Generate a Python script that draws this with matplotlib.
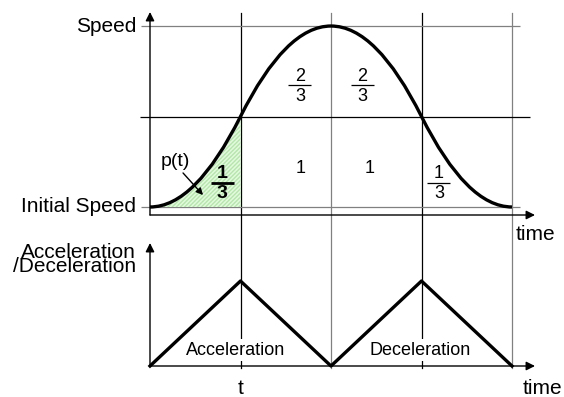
import matplotlib
matplotlib.use("Agg")
import matplotlib.pyplot as plt
from matplotlib.path import Path
import matplotlib.patches as ptc

# données (temps en segments, vitesse / accel normalisées)
knot_t = [0, 1, 2, 3, 4]
knot_v = [0, 0.5, 1, 0.5, 0]
ctrl_t = [0.5, 1.5, 2.5, 3.5]
ctrl_v = [0, 1, 1, 0]
accel_t = [0, 1, 2, 3, 4]
accel_v = [0, 1, 0, 1, 0]
grid_t = [1, 2, 3, 4]
grid_col = ['black', 'gray', 'black', 'gray']
area_lbl = ['1', '1']
area_t = [1.66, 2.43]

plt.rcParams['font.family'] = ['Liberation Sans', 'DejaVu Sans']

W, H = 564, 397
fig = plt.figure(figsize=(W/100, H/100), dpi=100)

# mise en page en pixels
X0, DX = 150, 90.5
Y0s, DYs = 207, 181     # vitesse
Y0a, DYa = 366, 85      # accélération

ax = fig.add_axes([0, 0, 1, 1])
ax.set_xlim(-X0/DX, (W-X0)/DX)
ax.set_ylim((Y0s-H)/DYs, Y0s/DYs)
ax.axis('off')

ax2 = fig.add_axes([0, 0, 1, 1])
ax2.set_xlim(-X0/DX, (W-X0)/DX)
ax2.set_ylim((Y0a-H)/DYa, Y0a/DYa)
ax2.axis('off')
ax2.patch.set_alpha(0)

ap = dict(arrowstyle='-|>', mutation_scale=13, lw=1, color='black',
          shrinkA=0, shrinkB=0)


# fraction écrite à la main : numérateur, barre, dénominateur
def frac(t, v, num, den, bold=False):
    w = 'bold' if bold else 'normal'
    fs = 14 if bold else 13
    ax.text(t, v + 9/DYs, num, ha='center', va='center', fontsize=fs,
            fontweight=w, zorder=6)
    ax.text(t, v - 11/DYs, den, ha='center', va='center', fontsize=fs,
            fontweight=w, zorder=6)
    ax.plot([t - 11.5/DX, t + 11.5/DX], [v, v], color='black',
            lw=2 if bold else 0.9, solid_capstyle='butt', zorder=6)


# verticales communes aux deux panneaux
for t, c in zip(grid_t, grid_col):
    ax.axvline(t, ymin=1-368/H, ymax=1-13/H, color=c, lw=0.9, zorder=1)

# grille horizontale du haut
ax.hlines([1, 0], -9/DX, 370/DX, color='gray', lw=0.9)
ax.hlines(0.5, -10/DX, 380/DX, color='black', lw=0.9)

# axes du haut
ax.annotate('', xy=(0, (Y0s-12)/DYs), xytext=(0, -8/DYs), arrowprops=ap)
ax.annotate('', xy=(385/DX, -8/DYs), xytext=(0, -8/DYs), arrowprops=ap)

# courbe de vitesse (paraboles -> bezier quadratique)
verts = [(knot_t[0], knot_v[0])]
codes = [Path.MOVETO]
for i in range(len(ctrl_t)):
    verts += [(ctrl_t[i], ctrl_v[i]), (knot_t[i+1], knot_v[i+1])]
    codes += [Path.CURVE3, Path.CURVE3]
ax.add_patch(ptc.PathPatch(Path(verts, codes), fill=False, lw=2.4,
                           color='black', zorder=5))

# zone hachurée sous p(t)
fverts = [(knot_t[0], knot_v[0]), (ctrl_t[0], ctrl_v[0]),
          (knot_t[1], knot_v[1]), (knot_t[1], knot_v[0]),
          (knot_t[0], knot_v[0])]
fcodes = [Path.MOVETO, Path.CURVE3, Path.CURVE3, Path.LINETO, Path.CLOSEPOLY]
fp = Path(fverts, fcodes)
ax.add_patch(ptc.PathPatch(fp, facecolor='#e4f9df', edgecolor='none', zorder=2))
ax.add_patch(ptc.PathPatch(fp, fill=False, edgecolor='#b4e6aa', lw=0,
                           hatch='////////', zorder=2))

# textes du haut
ax.text(-14/DX, 1, 'Speed', ha='right', va='center', fontsize=15)
ax.text(-14/DX, 0, 'Initial Speed', ha='right', va='center', fontsize=15)
ax.text(366/DX, -27/DYs, 'time', ha='left', va='center', fontsize=15)
frac(1.657, 0.674, '2', '3')
frac(2.343, 0.674, '2', '3')
for t, s in zip(area_t, area_lbl):
    ax.text(t, 0.215, s, ha='center', va='center', fontsize=13)
frac(3.193, 0.133, '1', '3')
frac(0.796, 0.133, '1', '3', bold=True)
ax.text(0.276, 0.249, 'p(t)', ha='center', va='center', fontsize=14)
ax.annotate('', xy=(0.586, 0.066), xytext=(0.365, 0.188),
            arrowprops=dict(arrowstyle='-|>', mutation_scale=10, lw=1,
                            color='black', shrinkA=0, shrinkB=0), zorder=6)

# panneau du bas
ax2.plot(accel_t, accel_v, color='black', lw=2.4, zorder=5)
ax2.annotate('', xy=(0, 123/DYa), xytext=(0, 0), arrowprops=ap)
ax2.annotate('', xy=(385/DX, 0), xytext=(0, 0), arrowprops=ap)
ax2.text(-14/DX, 1.253, 'Acceleration\n/Deceleration', ha='right',
         va='center', multialignment='right', fontsize=15, linespacing=0.62)
ax2.text(0.95, 0.188, 'Acceleration', ha='center', va='center', fontsize=13,
         bbox=dict(fc='white', ec='none', pad=1.5), zorder=4)
ax2.text(2.99, 0.188, 'Deceleration', ha='center', va='center', fontsize=13,
         bbox=dict(fc='white', ec='none', pad=1.5), zorder=4)
ax2.text(1, -0.259, 't', ha='center', va='center', fontsize=15)
ax2.text(373/DX, -0.27, 'time', ha='left', va='center', fontsize=15)

fig.savefig('out.png', dpi=100)
